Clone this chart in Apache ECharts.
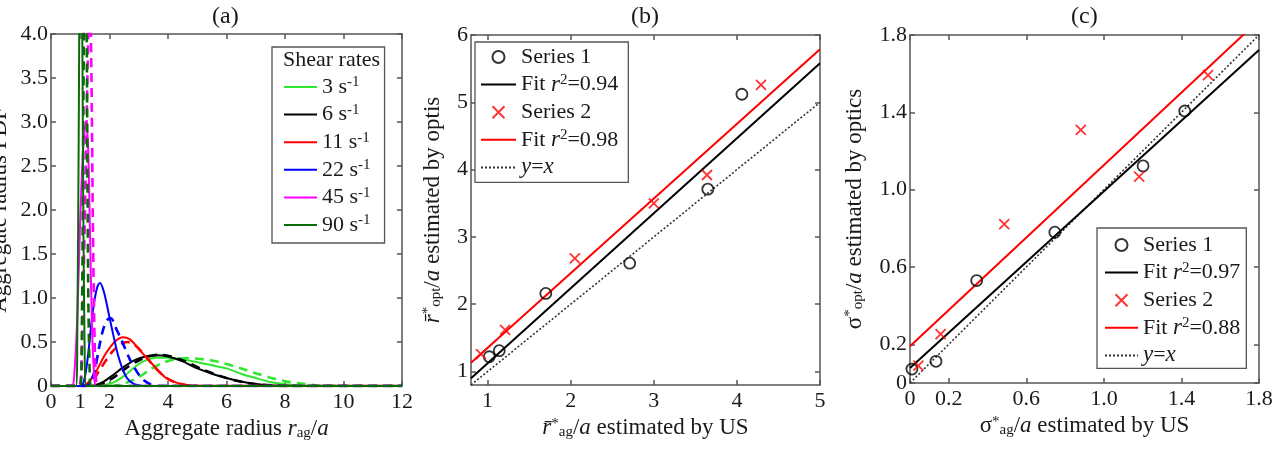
<!DOCTYPE html>
<html>
<head>
<meta charset="utf-8">
<script src="https://cdn.jsdelivr.net/npm/echarts@6/dist/echarts.min.js"></script>
<style>
html,body{margin:0;padding:0;background:#fff}
#main{width:1281px;height:449px}
</style>
</head>
<body>
<div id="main"></div>
<script>
// ---- data: panel (a) aggregate radius PDF, solid = measured, dashed = fit
const shearRates = ['3', '6', '11', '22', '45', '90'];
const aTicksX = [0, 1, 2, 4, 6, 8, 10, 12];
const aTicksY = [0, 0.5, 1, 1.5, 2, 2.5, 3, 3.5, 4];

const pdf3Solid = [[0,0],[1.4,0],[1.8,0.01],[2.2,0.05],[2.6,0.14],[3.0,0.25],[3.3,0.3],[3.6,0.32],[4.0,0.32],[4.5,0.3],[5.0,0.27],[5.5,0.235],[6.0,0.2],[6.5,0.14],[7.0,0.09],[7.5,0.045],[8.0,0.02],[8.5,0.007],[9,0],[12,0]];
const pdf3Dashed = [[0,0],[1.8,0],[2.2,0.005],[2.6,0.04],[3.0,0.1],[3.4,0.19],[3.8,0.26],[4.2,0.3],[4.6,0.315],[5.0,0.31],[5.5,0.29],[6.0,0.25],[6.5,0.2],[7.0,0.145],[7.5,0.095],[8.0,0.055],[8.5,0.03],[9.0,0.012],[9.5,0.004],[10,0],[12,0]];
const pdf6Solid = [[0,0],[1.2,0],[1.5,0.01],[1.8,0.05],[2.1,0.12],[2.5,0.22],[2.9,0.3],[3.3,0.34],[3.6,0.35],[4.0,0.335],[4.5,0.28],[5.0,0.2],[5.5,0.14],[6.0,0.09],[6.5,0.05],[7.0,0.022],[7.5,0.008],[8,0.002],[8.5,0],[12,0]];
const pdf6Dashed = [[0,0],[1.3,0],[1.6,0.01],[1.9,0.05],[2.2,0.11],[2.6,0.21],[3.0,0.29],[3.4,0.34],[3.7,0.355],[4.1,0.335],[4.6,0.28],[5.1,0.2],[5.6,0.135],[6.1,0.08],[6.6,0.042],[7.1,0.018],[7.6,0.006],[8.2,0],[12,0]];
const pdf11Solid = [[0,0],[1.0,0],[1.2,0.02],[1.4,0.09],[1.6,0.2],[1.8,0.33],[2.0,0.43],[2.2,0.51],[2.45,0.555],[2.7,0.53],[3.0,0.42],[3.3,0.31],[3.6,0.2],[3.9,0.1],[4.2,0.05],[4.5,0.02],[4.8,0.006],[5.2,0],[12,0]];
const pdf11Dashed = [[0,0],[1.1,0],[1.3,0.03],[1.5,0.1],[1.7,0.2],[1.9,0.3],[2.1,0.39],[2.35,0.47],[2.6,0.5],[2.85,0.47],[3.1,0.39],[3.4,0.27],[3.7,0.16],[4.0,0.08],[4.3,0.035],[4.6,0.012],[5.0,0.003],[5.4,0],[12,0]];
const pdf22Solid = [[0,0],[1.0,0],[1.1,0.03],[1.2,0.18],[1.3,0.45],[1.4,0.77],[1.5,1.0],[1.6,1.14],[1.68,1.17],[1.8,1.08],[1.9,0.94],[2.0,0.78],[2.15,0.55],[2.3,0.34],[2.45,0.19],[2.6,0.09],[2.8,0.03],[3.0,0.008],[3.2,0],[12,0]];
const pdf22Dashed = [[0,0],[1.2,0],[1.35,0.05],[1.5,0.18],[1.65,0.45],[1.8,0.66],[1.95,0.76],[2.05,0.77],[2.2,0.67],[2.4,0.53],[2.7,0.3],[3.0,0.13],[3.2,0.06],[3.4,0.02],[3.6,0],[12,0]];
const pdf45Solid = [[0,0],[0.7,0],[0.8,0.15],[0.9,0.8],[1.0,1.9],[1.1,2.7],[1.2,3.0],[1.27,2.7],[1.33,1.8],[1.4,0.7],[1.47,0.15],[1.55,0],[12,0]];
const pdf45Dashed = [[0,0],[0.95,0],[1.05,0.4],[1.15,1.8],[1.25,3.6],[1.32,4.6],[1.38,3.6],[1.43,1.9],[1.48,0.7],[1.53,0.15],[1.6,0],[12,0]];
const pdf90Solid = [[0,0],[0.85,0],[0.9,0.6],[0.95,3.0],[1.0,5.5],[1.05,5.0],[1.1,2.2],[1.15,0.4],[1.2,0],[12,0]];
const pdf90Dashed = [[0,0],[1.0,0],[1.06,0.8],[1.12,3.8],[1.17,5.5],[1.22,4.0],[1.27,1.2],[1.32,0.2],[1.37,0],[12,0]];

// ---- data: panel (b) mean radius
const bTicksX = [1, 2, 3, 4, 5];
const bTicksY = [1, 2, 3, 4, 5, 6];
const bSeries1 = [[1.02,1.22],[1.14,1.31],[1.70,2.16],[2.71,2.61],[3.65,3.71],[4.06,5.12]];
const bSeries2 = [[0.92,1.26],[1.21,1.62],[2.05,2.68],[3.00,3.50],[3.64,3.92],[4.29,5.26]];
const bFit1 = [[0.8,0.9],[5,5.58]];
const bFit2 = [[0.8,1.13],[5,5.79]];
const bIdentity = [[0.8,0.8],[5,5]];

// ---- data: panel (c) standard deviation
const cTicks = [0, 0.2, 0.6, 1.0, 1.4, 1.8];
const cSeries1 = [[0.01,0.072],[0.134,0.112],[0.344,0.53],[0.747,0.78],[1.202,1.123],[1.417,1.407]];
const cSeries2 = [[0.043,0.09],[0.158,0.253],[0.486,0.822],[0.881,1.309],[1.182,1.068],[1.537,1.593]];
const cFit1 = [[0,0.078],[1.8,1.722]];
const cFit2 = [[0,0.19],[1.8,1.877]];
const cIdentity = [[0,0],[1.8,1.8]];

const font = 'Liberation Serif';
const axisColor = '#555';
const txtColor = '#1a1a1a';
const rich = {
    i: {fontStyle: 'italic', fontFamily: font, fontSize: 23, color: txtColor},
    sup: {fontFamily: font, fontSize: 15, color: txtColor, verticalAlign: 'top'},
    sub: {fontFamily: font, fontSize: 15, color: txtColor, verticalAlign: 'bottom'}
};
const rateColors = ['#2ee82e', '#000000', '#ff0000', '#0000ff', '#ff00ff', '#0b6b0b'];
const solidCurves = [pdf3Solid, pdf6Solid, pdf11Solid, pdf22Solid, pdf45Solid, pdf90Solid];
const dashedCurves = [pdf3Dashed, pdf6Dashed, pdf11Dashed, pdf22Dashed, pdf45Dashed, pdf90Dashed];

const fmtInt = v => String(v);
const fmtOne = v => v === 0 ? '0' : v.toFixed(1);

function boxLine() {
    return {show: true, onZero: false, lineStyle: {color: axisColor, width: 1.5}};
}
function boxTick(ticks) {
    return {show: true, inside: true, length: 5, customValues: ticks, lineStyle: {color: axisColor, width: 1.5}};
}
function makeAxes(dim, grid, min, max, ticks, fmt, name, nameGap) {
    let main = {
        type: 'value', gridIndex: grid, min: min, max: max,
        position: dim === 'x' ? 'bottom' : 'left',
        axisLine: boxLine(), axisTick: boxTick(ticks),
        axisLabel: {customValues: ticks, formatter: fmt, margin: dim === 'x' ? 5 : 3,
            fontSize: 22, color: txtColor, fontFamily: font},
        splitLine: {show: false},
        name: name, nameLocation: 'middle', nameGap: nameGap,
        nameTextStyle: {fontSize: 23, color: txtColor, fontFamily: font, rich: rich}
    };
    let mirror = {
        type: 'value', gridIndex: grid, min: min, max: max,
        position: dim === 'x' ? 'top' : 'right',
        axisLine: boxLine(), axisTick: boxTick(ticks),
        axisLabel: {show: false}, splitLine: {show: false}
    };
    return [main, mirror];
}

const labels = {
    b1: 'Series 1', bf1: 'Fit {i|r}{sup|2}=0.94', b2: 'Series 2', bf2: 'Fit {i|r}{sup|2}=0.98', by: '{i|y}={i|x}',
    c1: 'Series 1', cf1: 'Fit {i|r}{sup|2}=0.97', c2: 'Series 2', cf2: 'Fit {i|r}{sup|2}=0.88', cy: '{i|y}={i|x}'
};
shearRates.forEach(r => labels['a' + r] = r + ' s{sup|-1}');

// line entries get an invisible symbol so only the stroke shows
const noDot = {color: 'rgba(0,0,0,0)', borderWidth: 0, opacity: 0};
function legendItems(names) {
    return names.map(n => labels[n].indexOf('Series') === 0 ? {name: n} : {name: n, itemStyle: noDot});
}
function legendBox(names, left, top, padding, itemWidth) {
    return {
        data: legendItems(names), orient: 'vertical', left: left, top: top, padding: padding,
        itemGap: 3.6, itemWidth: itemWidth, itemHeight: 12, selectedMode: false,
        borderColor: axisColor, borderWidth: 1.3, backgroundColor: '#fff',
        formatter: n => labels[n],
        textStyle: {fontSize: 22, fontFamily: font, color: txtColor, lineHeight: 24, rich: rich}
    };
}

const crossPath = 'path://M0,0L10,10M10,0L0,10';
function scatter(name, data, ax, isCross) {
    return {
        name: name, type: 'scatter', xAxisIndex: ax, yAxisIndex: ax, data: data,
        symbol: isCross ? crossPath : 'circle', symbolSize: isCross ? 10 : 11,
        itemStyle: isCross
            ? {color: '#ff0000', borderColor: '#ff0000', borderWidth: 1.8}
            : {color: 'rgba(0,0,0,0)', borderColor: '#000', borderWidth: 1.8},
        z: 5
    };
}
function straight(name, data, ax, color, type) {
    return {
        name: name, type: 'line', xAxisIndex: ax, yAxisIndex: ax, data: data,
        symbol: 'none', color: color,
        lineStyle: {color: color, width: type === 'solid' ? 2 : 1.6, type: type}
    };
}

let series = [];
shearRates.forEach((r, i) => {
    series.push({
        name: 'a' + r, type: 'line', xAxisIndex: 0, yAxisIndex: 0, data: solidCurves[i],
        symbol: 'none', smooth: 0.3, color: rateColors[i],
        lineStyle: {color: rateColors[i], width: 2}
    });
    series.push({
        name: 'a' + r + 'fit', type: 'line', xAxisIndex: 0, yAxisIndex: 0, data: dashedCurves[i],
        symbol: 'none', smooth: 0.3, color: rateColors[i],
        lineStyle: {color: rateColors[i], width: 2.6, type: [9, 6]}
    });
});
// panel b uses axis index 2, panel c index 4
series.push(straight('by', bIdentity, 2, '#333', [2, 2]));
series.push(straight('bf1', bFit1, 2, '#000', 'solid'));
series.push(straight('bf2', bFit2, 2, '#ff0000', 'solid'));
series.push(scatter('b1', bSeries1, 2, false));
series.push(scatter('b2', bSeries2, 2, true));
series.push(straight('cy', cIdentity, 4, '#333', [2, 2]));
series.push(straight('cf1', cFit1, 4, '#000', 'solid'));
series.push(straight('cf2', cFit2, 4, '#ff0000', 'solid'));
series.push(scatter('c1', cSeries1, 4, false));
series.push(scatter('c2', cSeries2, 4, true));

const titleStyle = {fontSize: 24, fontWeight: 'normal', fontFamily: font, color: txtColor};

const option = {
    animation: false,
    backgroundColor: '#fff',
    textStyle: {fontFamily: font},
    title: [
        {text: '(a)', left: 212, top: 5, padding: 0, textStyle: titleStyle},
        {text: '(b)', left: 631, top: 5, padding: 0, textStyle: titleStyle},
        {text: '(c)', left: 1071, top: 5, padding: 0, textStyle: titleStyle},
        {text: 'Shear rates', left: 283, top: 49, padding: 0,
            textStyle: {fontSize: 22, fontWeight: 'normal', fontFamily: font, color: txtColor}}
    ],
    grid: [
        {left: 51, top: 34, width: 351, height: 352, outerBoundsMode: 'none', containLabel: false},
        {left: 471, top: 35, width: 349, height: 350, outerBoundsMode: 'none', containLabel: false},
        {left: 910, top: 35, width: 349, height: 348, outerBoundsMode: 'none', containLabel: false}
    ],
    xAxis: [].concat(
        makeAxes('x', 0, 0, 12, aTicksX, fmtInt, 'Aggregate radius {i|r}{sub|ag}/{i|a}', 27),
        makeAxes('x', 1, 0.8, 5, bTicksX, fmtInt, '{i|r\u0304}{sup|*}{sub|ag}/{i|a} estimated by US', 27),
        makeAxes('x', 2, 0, 1.8, cTicks, fmtOne, '\u03c3{sup|*}{sub|ag}/{i|a} estimated by US', 27)
    ),
    yAxis: [].concat(
        makeAxes('y', 0, 0, 4, aTicksY, fmtOne, 'Aggregate radius PDF', 40),
        makeAxes('y', 1, 0.8, 6, bTicksY, fmtInt, '{i|r\u0304}{sup|*}{sub|opt}/{i|a} estimated by optis', 27),
        makeAxes('y', 2, 0, 1.8, cTicks, fmtOne, '\u03c3{sup|*}{sub|opt}/{i|a} estimated by optics', 44)
    ),
    legend: [
        legendBox(shearRates.map(r => 'a' + r), 272, 47, [28, 14, 6, 11], 33),
        legendBox(['b1', 'bf1', 'b2', 'bf2', 'by'], 475, 42, [3, 10, 3, 5], 35),
        legendBox(['c1', 'cf1', 'c2', 'cf2', 'cy'], 1097, 228, [5, 6, 1, 7], 33)
    ],
    series: series
};

const chart = echarts.init(document.getElementById('main'));
chart.setOption(option);
</script>
</body>
</html>
